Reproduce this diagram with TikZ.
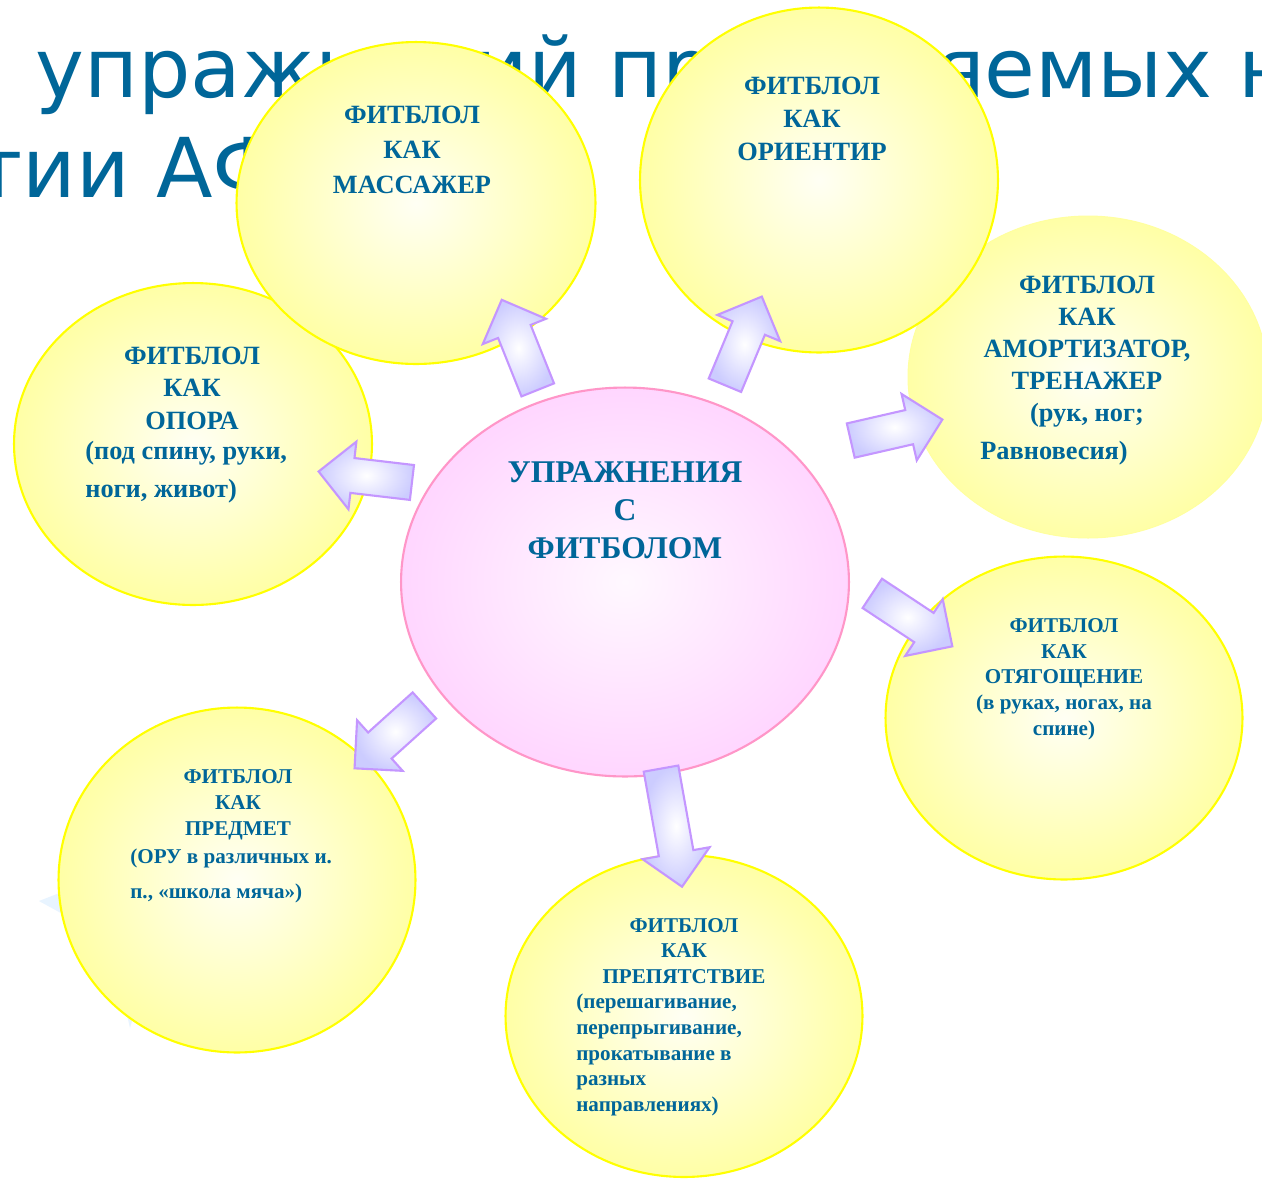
\documentclass[tikz,border=0pt]{standalone}
\usepackage{fontspec}
\setmainfont{Liberation Serif}
\newfontfamily\titlefont{DejaVu Sans}
\usetikzlibrary{shapes.geometric, shapes.arrows}
\definecolor{capblue}{RGB}{0,102,153}
\definecolor{ballrim}{RGB}{255,255,0}
\definecolor{ballpale}{RGB}{255,255,160}
\definecolor{ballin}{RGB}{255,255,244}
\definecolor{ballout}{RGB}{255,255,166}
\definecolor{hubrim}{RGB}{255,150,200}
\definecolor{hubin}{RGB}{255,248,255}
\definecolor{hubout}{RGB}{255,214,255}
\definecolor{arrowrim}{RGB}{196,150,255}
\definecolor{arrowout}{RGB}{204,204,255}
\definecolor{ghost}{RGB}{232,244,255}
\tikzset{
    ball/.style={ellipse, draw=ballrim, line width=1.2pt, inner sep=0pt,
        inner color=ballin, outer color=ballout},
    hub/.style={ellipse, draw=hubrim, line width=1.2pt, inner sep=0pt,
        inner color=hubin, outer color=hubout},
    pointer/.style={single arrow, draw=arrowrim, line width=1.2pt, inner xsep=0pt,
        inner ysep=0.33cm, inner color=white, outer color=arrowout,
        minimum width=1.32cm, single arrow head extend=0.33cm},
    caption/.style={text=capblue, align=center, inner sep=0pt},
    heading/.style={text=capblue, inner sep=0pt, font=\titlefont\fontsize{47}{56}\selectfont}
}
\begin{document}
\begin{tikzpicture}[x=0.02cm, y=-0.02cm]
    \useasboundingbox (0,0) rectangle (1262,1178);
    \clip (0,0) rectangle (1262,1178);
    \fill[white] (0,0) rectangle (1262,1178);
    % title, mostly hidden behind the balls
    \node[heading, anchor=base west] (title1) at (35,97) {упражнений применяемых на};
    \node[heading, anchor=base west] (title2) at (-26,197) {тии АФК};
    \fill[ghost] (39,901) -- (80,885) -- (150,960) -- (130,1028) -- (110,940) -- cycle;
    % balls
    \node[ball, minimum width=7.16cm, minimum height=6.44cm] (opora) at (193,444) {};
    \node[ball, minimum width=7.18cm, minimum height=6.44cm] (massazh) at (416,203) {};
    \node[ball, draw=ballpale, line width=.6pt, minimum width=7.2cm, minimum height=6.44cm] (amort) at (1088,377) {};
    \node[ball, minimum width=7.16cm, minimum height=6.9cm] (orient) at (819,180) {};
    \node[ball, minimum width=7.14cm, minimum height=6.46cm] (otyag) at (1064,718) {};
    \node[ball, minimum width=7.14cm, minimum height=6.9cm] (predmet) at (237,880) {};
    \node[ball, minimum width=7.14cm, minimum height=6.44cm] (prepyat) at (684,1016) {};
    \node[hub, minimum width=8.96cm, minimum height=7.78cm] (hub) at (625,582) {};
    % block arrows
    \foreach \px/\py/\ang/\len [count=\i] in {523/353/111.8/1.94, 740/349/67.4/1.92,
        888/432/12.9/1.88, 905/615/-33.5/1.92, 374/478/173.3/1.88,
        396/731/-138/1.88, 670/819/-79.9/2.4}
        \node[pointer, minimum height=\len cm, rotate=\ang] (arrow\i) at (\px,\py) {};
    % texts
    \node[caption, font=\fontsize{18}{21.5}\selectfont\bfseries] (hub-t) at (625,510)
        {УПРАЖНЕНИЯ\\С\\ФИТБОЛОМ};
    \node[caption, font=\fontsize{15}{20}\selectfont\bfseries] (massazh-t) at (412,150)
        {ФИТБЛОЛ\\КАК\\МАССАЖЕР};
    \node[caption, font=\fontsize{15}{19}\selectfont\bfseries] (orient-t) at (812,119)
        {ФИТБЛОЛ\\КАК\\ОРИЕНТИР};
    \node[caption, font=\fontsize{15}{18.2}\selectfont\bfseries] (amort-t) at (1087,352)
        {ФИТБЛОЛ\\КАК\\АМОРТИЗАТОР,\\ТРЕНАЖЕР\\(рук, ног;};
    \node[caption, anchor=west, font=\fontsize{15}{18}\selectfont\bfseries] (amort-n) at (980,453)
        {Равновесия)};
    \node[caption, font=\fontsize{15}{18.5}\selectfont\bfseries] (opora-t) at (192,388)
        {ФИТБЛОЛ\\КАК\\ОПОРА};
    \node[caption, align=left, anchor=west, font=\fontsize{15}{22}\selectfont\bfseries] (opora-n) at (85,472)
        {(под спину, руки,\\ноги, живот)};
    \node[caption, font=\fontsize{12}{14.6}\selectfont\bfseries] (otyag-t) at (1064,679)
        {ФИТБЛОЛ\\КАК\\ОТЯГОЩЕНИЕ\\(в руках, ногах, на\\спине)};
    \node[caption, font=\fontsize{12}{14.7}\selectfont\bfseries] (predmet-t) at (238,805)
        {ФИТБЛОЛ\\КАК\\ПРЕДМЕТ};
    \node[caption, align=left, anchor=west, font=\fontsize{12}{19.8}\selectfont\bfseries] (predmet-n) at (130,876)
        {(ОРУ в различных и.\\п., «школа мяча»)};
    \node[caption, font=\fontsize{12}{14.5}\selectfont\bfseries] (prepyat-t) at (684,951)
        {ФИТБЛОЛ\\КАК\\ПРЕПЯТСТВИЕ};
    \node[caption, align=left, anchor=west, font=\fontsize{12}{14.7}\selectfont\bfseries] (prepyat-n) at (576,1055)
        {(перешагивание,\\перепрыгивание,\\прокатывание в\\разных\\направлениях)};
\end{tikzpicture}
\end{document}
